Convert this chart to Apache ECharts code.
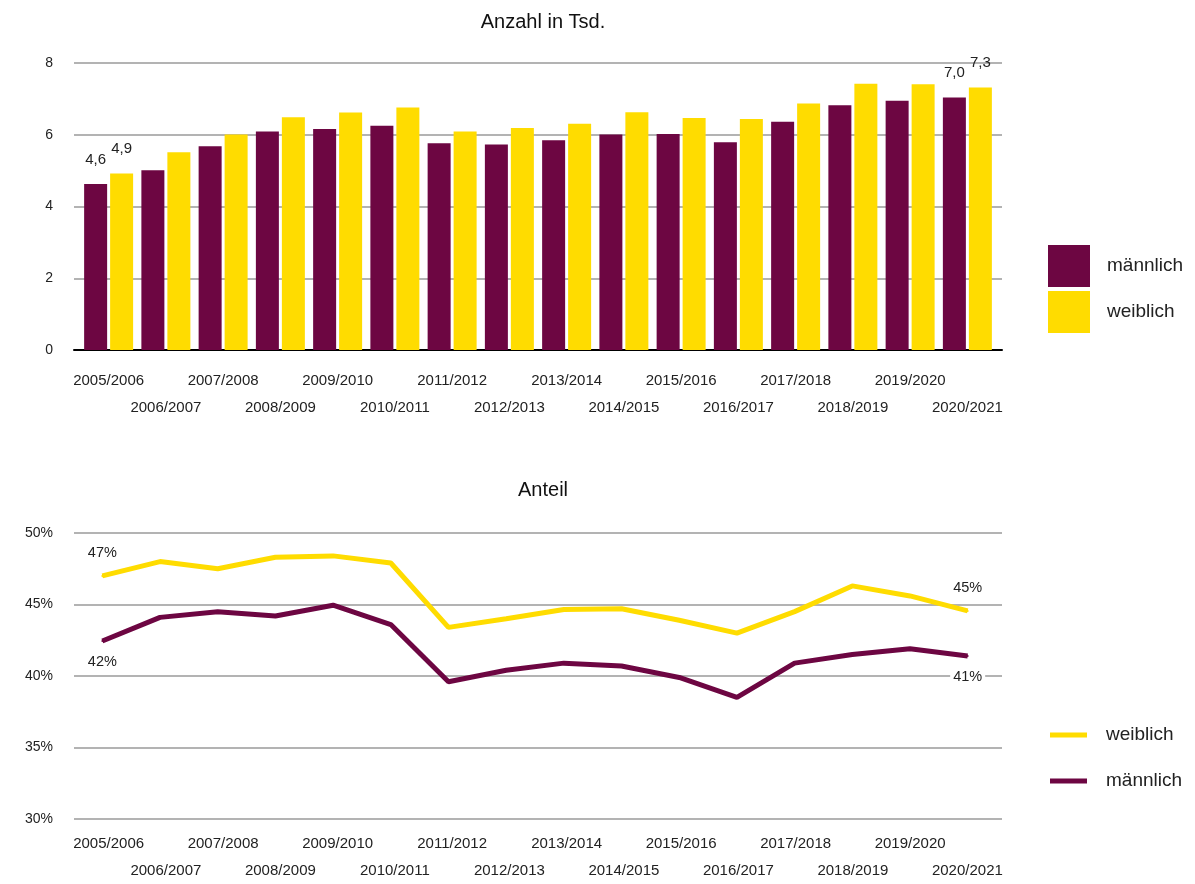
<!DOCTYPE html>
<html>
<head>
<meta charset="utf-8">
<title>Anzahl und Anteil</title>
<script src="https://cdn.jsdelivr.net/npm/echarts@6/dist/echarts.min.js"></script>
<style>
  html, body { margin: 0; padding: 0; background: #fff; overflow: hidden; }
  #chart { width: 1195px; height: 884px; }
</style>
</head>
<body>
<div id="chart"></div>
<script>
// Studienjahre
const years = [
  '2005/2006', '2006/2007', '2007/2008', '2008/2009', '2009/2010', '2010/2011',
  '2011/2012', '2012/2013', '2013/2014', '2014/2015', '2015/2016', '2016/2017',
  '2017/2018', '2018/2019', '2019/2020', '2020/2021'
];

// Anzahl in Tausend
const countMale = [4.63, 5.01, 5.68, 6.09, 6.16, 6.25, 5.76, 5.73, 5.85, 6.01, 6.02, 5.79, 6.36, 6.82, 6.95, 7.04];
const countFemale = [4.92, 5.51, 6.01, 6.49, 6.62, 6.76, 6.09, 6.19, 6.31, 6.63, 6.47, 6.44, 6.87, 7.42, 7.41, 7.32];

// Anteil in Prozent
const shareFemale = [47.0, 48.0, 47.5, 48.3, 48.4, 47.9, 43.4, 44.0, 44.65, 44.7, 43.9, 43.0, 44.5, 46.3, 45.6, 44.55];
const shareMale = [42.45, 44.1, 44.5, 44.2, 44.95, 43.6, 39.6, 40.4, 40.9, 40.7, 39.9, 38.5, 40.9, 41.5, 41.9, 41.4];

// Achsenskalen
const countTicks = { min: 0, max: 8, interval: 2 };
const shareTicks = { min: 30, max: 50, interval: 5 };

const MALE = '#6d0642';
const FEMALE = '#ffdc00';
const FONT = 'Liberation Sans, Arial, sans-serif';
const TEXT = '#222';
const LAST = years.length - 1;

const edgeOnly = fmt => p => (p.dataIndex === 0 || p.dataIndex === LAST) ? fmt(p.value) : '';
const comma = v => v.toFixed(1).replace('.', ',');
const pct = v => Math.round(v) + '%';

// Panel geometry: a frame grid carries gridlines and y labels,
// an inner grid carries the marks and the year labels.
const TOP = { top: 63, height: 287 };
const BOTTOM = { top: 533, height: 286 };
const FRAME_X = { left: 74, width: 928 };
const BAR_X = { left: 80, width: 916 };
const LINE_X = { left: 73.5, width: 923 };

const hiddenCategory = (gridIndex, lineShown) => ({
  type: 'category',
  gridIndex,
  data: years,
  axisTick: { show: false },
  axisLabel: { show: false },
  axisLine: lineShown
    ? { show: true, lineStyle: { color: '#000', width: 2 } }
    : { show: false }
});

const labelledCategory = gridIndex => ({
  type: 'category',
  gridIndex,
  data: years,
  axisTick: { show: false },
  axisLine: { show: false },
  axisLabel: {
    interval: 0,
    margin: 17,
    fontFamily: FONT,
    fontSize: 15,
    lineHeight: 27,
    color: TEXT,
    formatter: (v, i) => (i % 2 ? '\n' + v : v)
  }
});

const frameValue = (gridIndex, ticks, fmt) => ({
  type: 'value',
  gridIndex,
  min: ticks.min,
  max: ticks.max,
  interval: ticks.interval,
  axisLine: { show: false },
  axisTick: { show: false },
  splitLine: { lineStyle: { color: '#9a9a9a', width: 1.5 } },
  axisLabel: {
    margin: 21,
    fontFamily: FONT,
    fontSize: 14,
    color: TEXT,
    formatter: fmt
  }
});

const hiddenValue = (gridIndex, ticks) => ({
  type: 'value',
  gridIndex,
  min: ticks.min,
  max: ticks.max,
  interval: ticks.interval,
  show: false,
  splitLine: { show: false }
});

const chart = echarts.init(document.getElementById('chart'), null, { renderer: 'canvas', width: 1195, height: 884 });

chart.setOption({
  backgroundColor: '#fff',
  animation: false,
  title: [
    { text: 'Anzahl in Tsd.', left: 538, textAlign: 'center', top: 7,
      textStyle: { fontFamily: FONT, fontSize: 20, fontWeight: 'normal', color: '#111' } },
    { text: 'Anteil', left: 538, textAlign: 'center', top: 475,
      textStyle: { fontFamily: FONT, fontSize: 20, fontWeight: 'normal', color: '#111' } }
  ],
  legend: [
    {
      data: ['männlich', 'weiblich'],
      orient: 'vertical',
      left: 1048,
      top: 245,
      padding: 0,
      icon: 'rect',
      itemWidth: 42,
      itemHeight: 42,
      itemGap: 4,
      selectedMode: false,
      textStyle: { fontFamily: FONT, fontSize: 19, color: TEXT, padding: [0, 0, 0, 12] }
    },
    {
      data: ['weiblich', 'männlich'],
      orient: 'vertical',
      left: 1050,
      top: 725,
      padding: 0,
      icon: 'rect',
      itemWidth: 37,
      itemHeight: 5,
      itemGap: 26,
      selectedMode: false,
      textStyle: { fontFamily: FONT, fontSize: 19, lineHeight: 20, color: TEXT, padding: [0, 0, 0, 14] }
    }
  ],
  grid: [
    Object.assign({}, FRAME_X, TOP),
    Object.assign({}, BAR_X, TOP),
    Object.assign({}, FRAME_X, BOTTOM),
    Object.assign({}, LINE_X, BOTTOM),
    Object.assign({}, BAR_X, BOTTOM)
  ],
  xAxis: [
    hiddenCategory(0, true),
    labelledCategory(1),
    hiddenCategory(2, false),
    hiddenCategory(3, false),
    labelledCategory(4)
  ],
  yAxis: [
    frameValue(0, countTicks, v => String(v)),
    hiddenValue(1, countTicks),
    frameValue(2, shareTicks, v => v + '%'),
    hiddenValue(3, shareTicks),
    hiddenValue(4, shareTicks)
  ],
  series: [
    {
      name: 'männlich',
      type: 'bar',
      xAxisIndex: 1,
      yAxisIndex: 1,
      data: countMale,
      barWidth: 23,
      barGap: '13%',
      itemStyle: { color: MALE },
      label: {
        show: true, position: 'top', distance: 17,
        fontFamily: FONT, fontSize: 15, color: TEXT,
        formatter: edgeOnly(comma)
      }
    },
    {
      name: 'weiblich',
      type: 'bar',
      xAxisIndex: 1,
      yAxisIndex: 1,
      data: countFemale,
      barWidth: 23,
      barGap: '13%',
      itemStyle: { color: FEMALE },
      label: {
        show: true, position: 'top', distance: 17,
        fontFamily: FONT, fontSize: 15, color: TEXT,
        formatter: edgeOnly(comma)
      }
    },
    {
      name: 'weiblich',
      type: 'line',
      xAxisIndex: 3,
      yAxisIndex: 3,
      data: shareFemale,
      symbol: 'circle',
      symbolSize: 2,
      showSymbol: true,
      lineStyle: { color: FEMALE, width: 5 },
      itemStyle: { color: FEMALE },
      label: {
        show: true, position: 'top', distance: 14,
        fontFamily: FONT, fontSize: 14.5, color: TEXT,
        formatter: edgeOnly(pct)
      }
    },
    {
      name: 'männlich',
      type: 'line',
      xAxisIndex: 3,
      yAxisIndex: 3,
      data: shareMale,
      symbol: 'circle',
      symbolSize: 2,
      showSymbol: true,
      lineStyle: { color: MALE, width: 5 },
      itemStyle: { color: MALE },
      label: {
        show: true, position: 'bottom', distance: 13,
        fontFamily: FONT, fontSize: 14.5, color: TEXT,
        backgroundColor: '#fff',
        padding: [0, 3],
        formatter: edgeOnly(pct)
      }
    }
  ]
});
</script>
</body>
</html>
